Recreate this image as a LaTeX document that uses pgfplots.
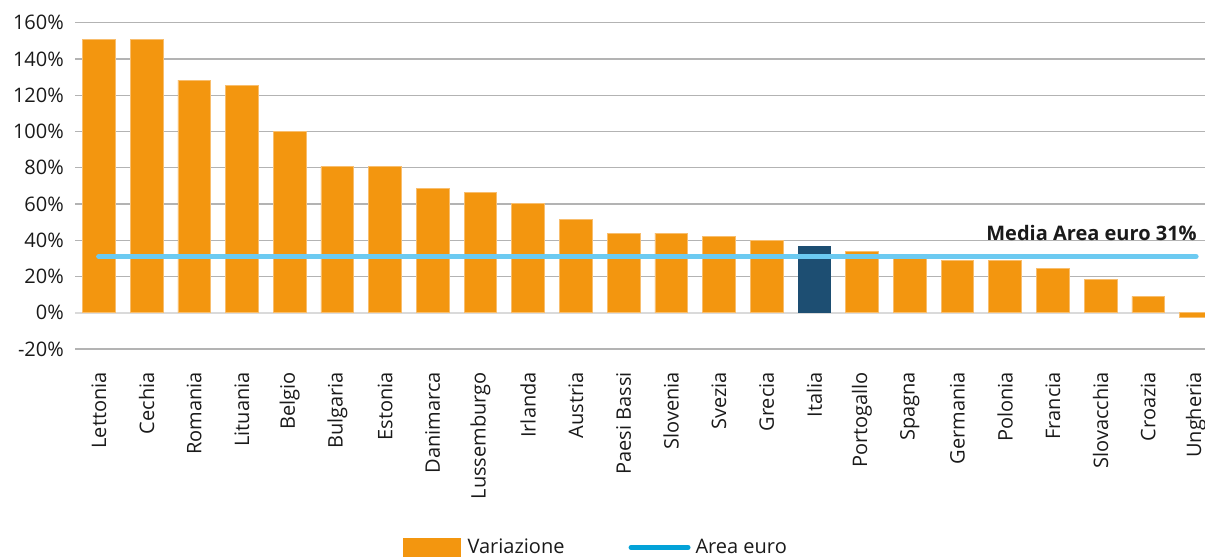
\documentclass[border=0pt]{standalone}
\usepackage{pgfplots}
\pgfplotsset{compat=1.18}
\usepackage{fontspec}
\setmainfont{Open Sans}

\definecolor{barorange}{HTML}{F3960F}
\definecolor{baredge}{HTML}{F8BE6E}
\definecolor{italyblue}{HTML}{1D4E72}
\definecolor{eurolinea}{HTML}{6CCAF1}
\definecolor{legendblue}{HTML}{03A2D8}
\definecolor{gridgray}{HTML}{B3B3B3}
\definecolor{zerogray}{HTML}{DADADA}
\definecolor{txt}{HTML}{1A1A1A}

\begin{document}
\begin{tikzpicture}[x=1bp,y=1bp]
\fontsize{20bp}{24bp}\selectfont
\path[use as bounding box] (-75bp,-209bp) rectangle (1130bp,349bp);
\begin{axis}[
  at={(0,0)}, anchor=south west,
  scale only axis, width=1130bp, height=326.3bp,
  xmin=-0.5, xmax=23.19,
  ymin=-20, ymax=160,
  ytick={-20,0,...,160},
  yticklabel={\pgfmathprintnumber{\tick}\%},
  /pgf/number format/assume math mode=true,
  xtick={0,...,23},
  xticklabels={Lettonia,Cechia,Romania,Lituania,Belgio,Bulgaria,Estonia,Danimarca,Lussemburgo,Irlanda,Austria,Paesi Bassi,Slovenia,Svezia,Grecia,Italia,Portogallo,Spagna,Germania,Polonia,Francia,Slovacchia,Croazia,Ungheria},
  xticklabel style={yshift=-23bp, rotate=90, anchor=east, inner sep=0pt, text=txt, font=\fontsize{20bp}{24bp}\selectfont},
  yticklabel style={xshift=-11bp, inner sep=0pt, text=txt, font=\fontsize{20bp}{24bp}\selectfont},
  ymajorgrids, major grid style={gridgray, line width=1.4bp},
  axis line style={draw=none},
  major tick length=0pt,
  clip=false,
  legend style={at={(rel axis cs:0.29,-0.579)}, anchor=north west, draw=none, fill=none,
    inner sep=0pt, font=\fontsize{20bp}{24bp}\selectfont, text=txt,
    legend columns=2, /tikz/every even column/.append style={column sep=64bp},
    nodes={inner sep=0pt, outer sep=0pt}},
  legend cell align=left,
]
% zero line drawn lighter than the other gridlines
\draw[zerogray, line width=1.8bp] (axis cs:-0.5,0) -- (axis cs:23.19,0);

\addplot[ybar, bar width=32.7bp, bar shift=0pt, fill=barorange, draw=baredge, line width=0.7bp,
  legend image code/.code={\fill[barorange] (0bp,-9bp) rectangle (57bp,9bp);}]
  coordinates {
  (0,151) (1,151) (2,128.3) (3,125.4) (4,100.2) (5,80.8) (6,80.8) (7,68.5)
  (8,66.3) (9,60.4) (10,51.7) (11,43.9) (12,43.9) (13,42.2) (14,40)
  (16,33.7) (17,30) (18,28.9) (19,28.9) (20,24.5) (21,18.2) (22,9) (23,-2.4)
  };
\addlegendentry{\hspace{7bp}Variazione}

\addplot[ybar, bar width=32.7bp, bar shift=0pt, fill=italyblue, draw=none, forget plot]
  coordinates {(15,36.6)};

\addplot[eurolinea, line width=5.5bp, line cap=round, mark=none,
  legend image code/.code={\draw[legendblue, line width=5bp, line cap=round] (2.5bp,0bp) -- (59.5bp,0bp);}]
  coordinates {(0,31) (23,31)};
\addlegendentry{\hspace{5bp}Area euro}

\node[anchor=base east, inner sep=0pt, text=txt, font=\bfseries\fontsize{20bp}{24bp}\selectfont]
  at (axis cs:23.02,40) {Media Area euro 31\%};
\end{axis}
\end{tikzpicture}
\end{document}
